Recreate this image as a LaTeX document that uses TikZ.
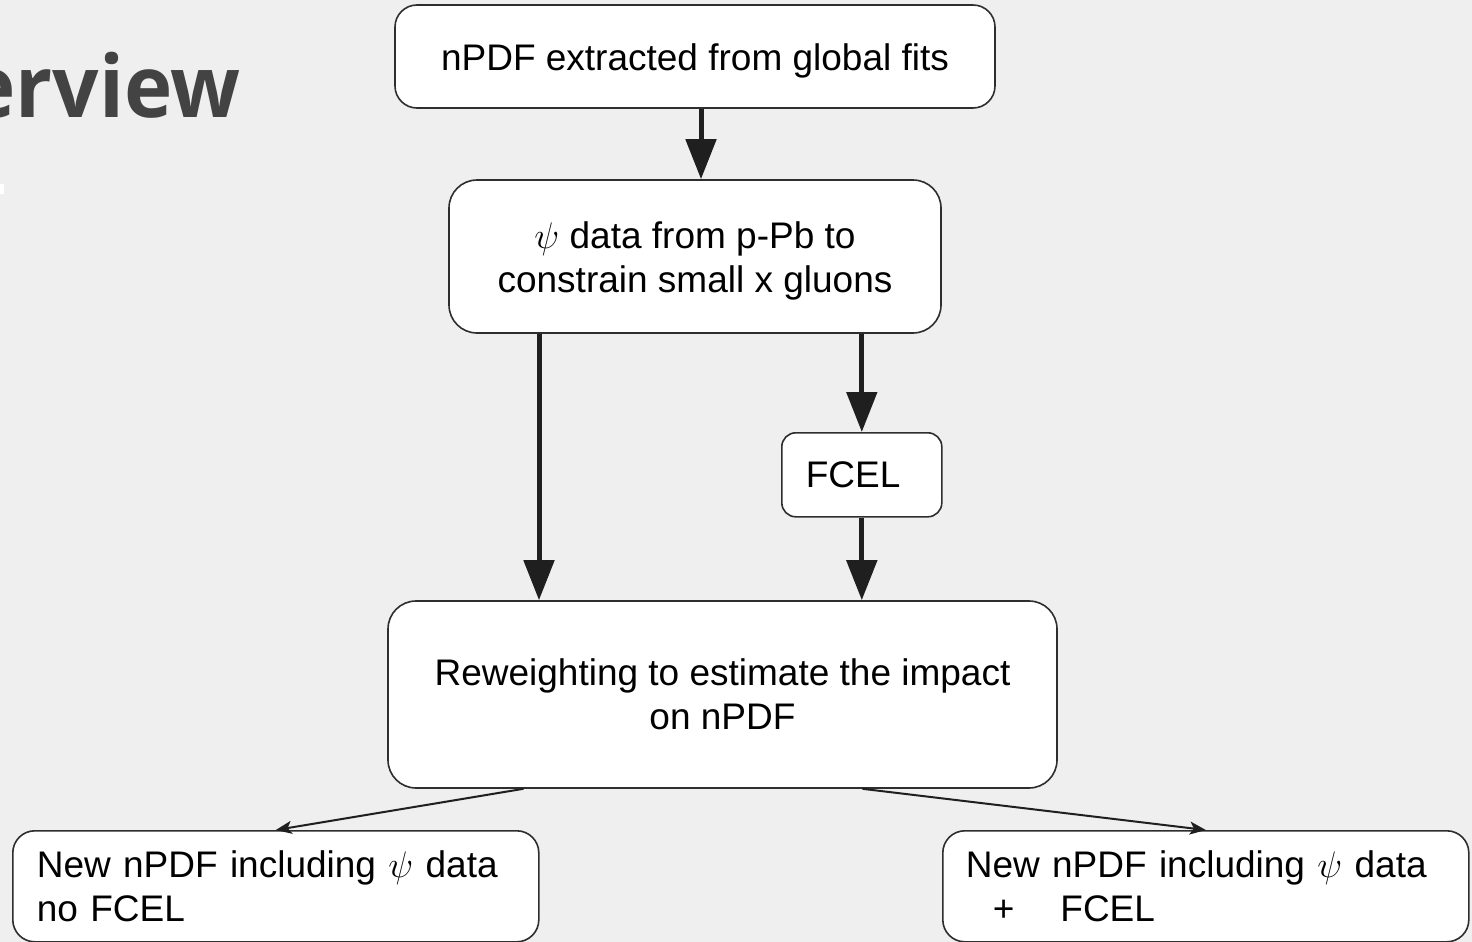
\documentclass[tikz,border=0pt]{standalone}
\usepackage{fix-cm}
\usepackage{fontspec}
\setmainfont{Liberation Sans}
\newfontfamily\titlefont{Open Sans}[FakeStretch=0.95]
\usetikzlibrary{calc,arrows.meta}
\definecolor{slidebg}{HTML}{EFEFEF}
\definecolor{titlegray}{HTML}{434343}
\definecolor{boxline}{HTML}{2E2E2E}
\definecolor{arrowblack}{HTML}{1F1F1F}
\newcommand{\lowstrut}{\rule{0pt}{35pt}}

\begin{document}
\begin{tikzpicture}[x=1pt,y=-1pt,
    flowbox/.style={draw=boxline,line width=1.6pt,fill=white,rounded corners=22pt,
      font=\fontsize{37}{44}\selectfont,align=center,inner sep=0pt},
    leftbox/.style={flowbox,align=left,inner xsep=24pt,anchor=north west},
    bigarrow/.style={draw=arrowblack,line width=5pt,-{Triangle[width=30pt,length=40pt]}},
    smallarrow/.style={draw=arrowblack,line width=2pt,-{Stealth[width=13pt,length=16pt,inset=4pt]}}]

  \useasboundingbox (0,0) rectangle (1472,942);
  \fill[slidebg] (0,0) rectangle (1472,942);

  % slide title, cut by the left edge
  \begin{scope}
    \clip (0,0) rectangle (1472,942);
    \node[font=\titlefont\bfseries\fontsize{86}{92}\selectfont,text=titlegray,
          anchor=base east,inner sep=0pt] (title) at (241,117) {Overview};
    \fill[white] (0,184) rectangle (4,194);
  \end{scope}

  \node[flowbox,minimum width=600pt,minimum height=103pt] (fits) at (695,56.5)
       {\lowstrut nPDF extracted from global fits};
  \node[flowbox,rounded corners=28pt,minimum width=492pt,minimum height=153pt] (psi) at (695,256.5)
       {\lowstrut$\psi$ data from p-Pb to\\constrain small x gluons};
  \node[leftbox,rounded corners=14pt,text width=112pt,minimum height=84pt] (fcel) at (781,432)
       {FCEL};
  \node[flowbox,rounded corners=28pt,minimum width=669pt,minimum height=187pt] (rew) at (722.5,694.5)
       {Reweighting to estimate the impact\\on nPDF};
  \node[leftbox,text width=478pt,minimum height=111pt] (nofcel) at (12,830)
       {New nPDF including $\psi$ data\\no FCEL};
  \node[leftbox,inner xsep=23pt,text width=480pt,minimum height=111pt] (withfcel) at (942,830)
       {New nPDF including $\psi$ data\\\hspace*{27pt}+\hspace{46pt}FCEL};

  % connectors
  \draw[bigarrow] ([xshift=6pt]fits.south) -- ([xshift=6pt]psi.north);
  \coordinate (split) at ([xshift=-156pt]psi.south);
  \draw[bigarrow] (split) -- (split |- rew.north);
  \draw[bigarrow] (psi.south -| fcel.north) -- (fcel.north);
  \draw[bigarrow] (fcel.south) -- (fcel.south |- rew.north);

  \draw[smallarrow] ([xshift=-199pt]rew.south) -- (nofcel.north);
  \draw[smallarrow] ([xshift=140pt]rew.south) -- (withfcel.north);

\end{tikzpicture}
\end{document}
